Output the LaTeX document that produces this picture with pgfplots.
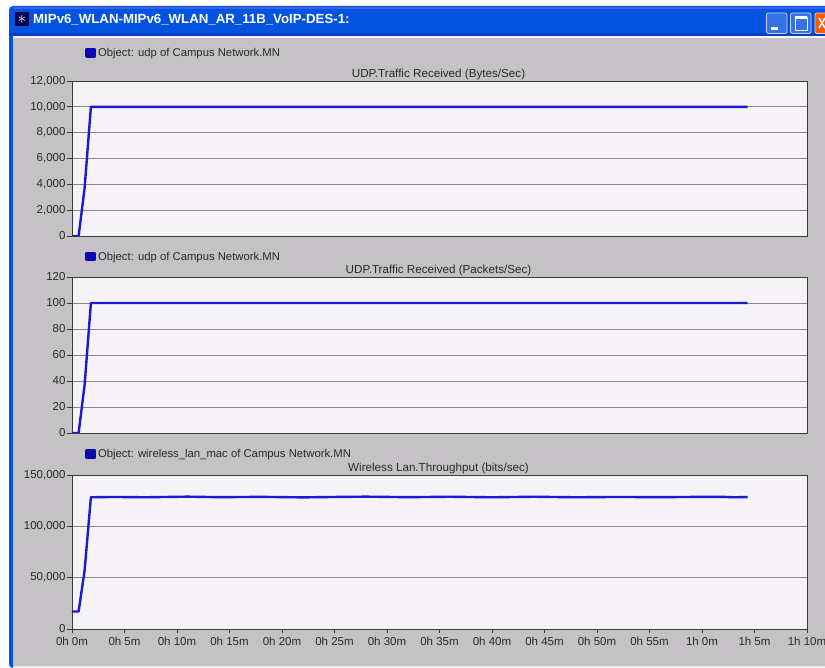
\documentclass[border=0pt]{standalone}
\usepackage{fontspec}
\setmainfont{Liberation Sans}
\usepackage{pgfplots}
\pgfplotsset{compat=1.18}
\definecolor{wgray}{HTML}{C4C2C4}
\definecolor{plotbg}{HTML}{F6F3F7}
\definecolor{xpblue}{HTML}{0453DE}
\definecolor{xpdark}{HTML}{0A3FC0}
\definecolor{btnblue}{HTML}{3472E6}
\definecolor{lineblue}{HTML}{1C18D6}
\definecolor{gridc}{HTML}{8A888A}
\definecolor{axc}{HTML}{3A3A3A}
\definecolor{txt}{HTML}{2A2A2A}
\definecolor{legb}{HTML}{0A0AB4}
\pgfplotsset{
  oppanel/.style={
    scale only axis, width=735pt, height=#1,
    xmin=0, xmax=70,
    axis background/.style={fill=plotbg},
    axis line style={axc, line width=0.9pt},
    ymajorgrids, grid style={gridc, line width=0.8pt},
    tick style={axc, line width=0.8pt},
    tick align=outside, major tick length=4.5pt,
    xtick pos=bottom, ytick pos=left,
    xtick={0,5,...,70},
    ticklabel style={font=\fontsize{11.5}{13}\selectfont, text=txt},
    /pgf/number format/assume math mode=true,
    /pgf/number format/fixed,
    /pgf/number format/1000 sep={,},
    scaled y ticks=false,
    yticklabel style={xshift=1.5pt},
    title style={font=\fontsize{11.65}{13}\selectfont, text=txt, at={(0.5,1)}, anchor=south, yshift=-8.5pt, xshift=-1pt},
    legend style={draw=none, fill=none, at={(13pt,1)}, anchor=west, font=\fontsize{11.3}{13}\selectfont, text=txt,
      inner sep=0pt, legend cell align=left},
    legend image code/.code={\fill[legb] (0.05cm,-3.5pt) rectangle (8.5pt+0.05cm,4pt);},
  },
  dataline/.style={lineblue, line width=2.4pt, line join=round, no markers},
}
\begin{document}
\begin{tikzpicture}[x=1pt,y=1pt]
\path[use as bounding box] (0,0) rectangle (825,668);
\fill[white] (0,0) rectangle (825,668);
% window frame
\fill[xpblue, rounded corners=4pt] (9,0) rectangle (840,662);
\fill[xpdark] (9,632) rectangle (825,635);
\fill[wgray] (13,0) rectangle (825,631);
\fill[white!85!wgray] (13,630) rectangle (825,632);
\fill[white!70!wgray] (13,0) rectangle (825,1.5);
% title bar
\fill[blue!55!white, opacity=.5] (14,659) rectangle (825,661);
\fill[black!70!blue] (15,642) rectangle (29,656);
\node[white, font=\fontsize{16}{16}\selectfont] at (22,649) {$\ast$};
\node[anchor=west, white, inner sep=0pt, font=\bfseries\fontsize{13.25}{14}\selectfont] at (33,648.5) {MIPv6\_WLAN-MIPv6\_WLAN\_AR\_11B\_VoIP-DES-1:};
% window buttons
\draw[white!80!blue, fill=btnblue, rounded corners=2pt, line width=.8pt] (766.5,634.5) rectangle (787,655);
\fill[white] (771,637.5) rectangle (778,640.5);
\draw[white!80!blue, fill=btnblue, rounded corners=2pt, line width=.8pt] (790.5,634.5) rectangle (811,655);
\draw[white, line width=.8pt] (795,638) rectangle (807,651);
\fill[white] (795,649) rectangle (807,652);
\draw[white!80!blue, fill=orange!70!red, rounded corners=2pt, line width=.8pt] (815,634.5) rectangle (830,655);
\draw[white, line width=1.6pt] (819,640) -- (825,650) (825,640) -- (819,650);

% top panel
\begin{axis}[oppanel=155pt, at={(72pt,432pt)}, anchor=south west,
  ymin=0, ymax=12000, ytick={0,2000,...,12000},
  xticklabels={}, xtick style={draw=none},
  title={UDP.Traffic Received (Bytes/Sec)}, legend style={at={(13pt,1.18)}}]
\addplot[dataline] coordinates {(0,0)(0.63,0)(1.2,3700)(1.8,10000)(10,10000)(20,10000)(30,10000)(40,10000)(50,10000)(60,10000)(64.35,10000)};
\addlegendentry{Object: udp of Campus Network.MN}
\end{axis}

% middle panel
\begin{axis}[oppanel=156pt, at={(72pt,235pt)}, anchor=south west,
  ymin=0, ymax=120, ytick={0,20,...,120},
  xticklabels={}, xtick style={draw=none},
  title={UDP.Traffic Received (Packets/Sec)}, legend style={at={(13pt,1.13)}}]
\addplot[dataline] coordinates {(0,0)(0.63,0)(1.2,37)(1.8,100)(10,100)(20,100)(30,100)(40,100)(50,100)(60,100)(64.35,100)};
\addlegendentry{Object: udp of Campus Network.MN}
\end{axis}

% bottom panel
\begin{axis}[oppanel=154pt, at={(72pt,39pt)}, anchor=south west,
  ymin=0, ymax=150000, ytick={0,50000,100000,150000},
  xticklabels={0h 0m,0h 5m,0h 10m,0h 15m,0h 20m,0h 25m,0h 30m,0h 35m,0h 40m,0h 45m,0h 50m,0h 55m,1h 0m,1h 5m,1h 10m},
  title={Wireless Lan.Throughput (bits/sec)}, legend style={at={(13pt,1.135)}}]
\addplot[dataline] coordinates {(0,17000)(0.63,17000)(1.2,57000)(1.8,128300)(4,128600)(7,128300)(11,128900)(14,128400)(18,128700)(22,128200)(25,128600)(28,128900)(32,128400)(36,128800)(40,128300)(44,128800)(48,128300)(52,128600)(56,128400)(60,128700)(62,128700)(63,128300)(64.35,128500)};
\addlegendentry{Object: wireless\_lan\_mac of Campus Network.MN}
\end{axis}
\end{tikzpicture}
\end{document}
